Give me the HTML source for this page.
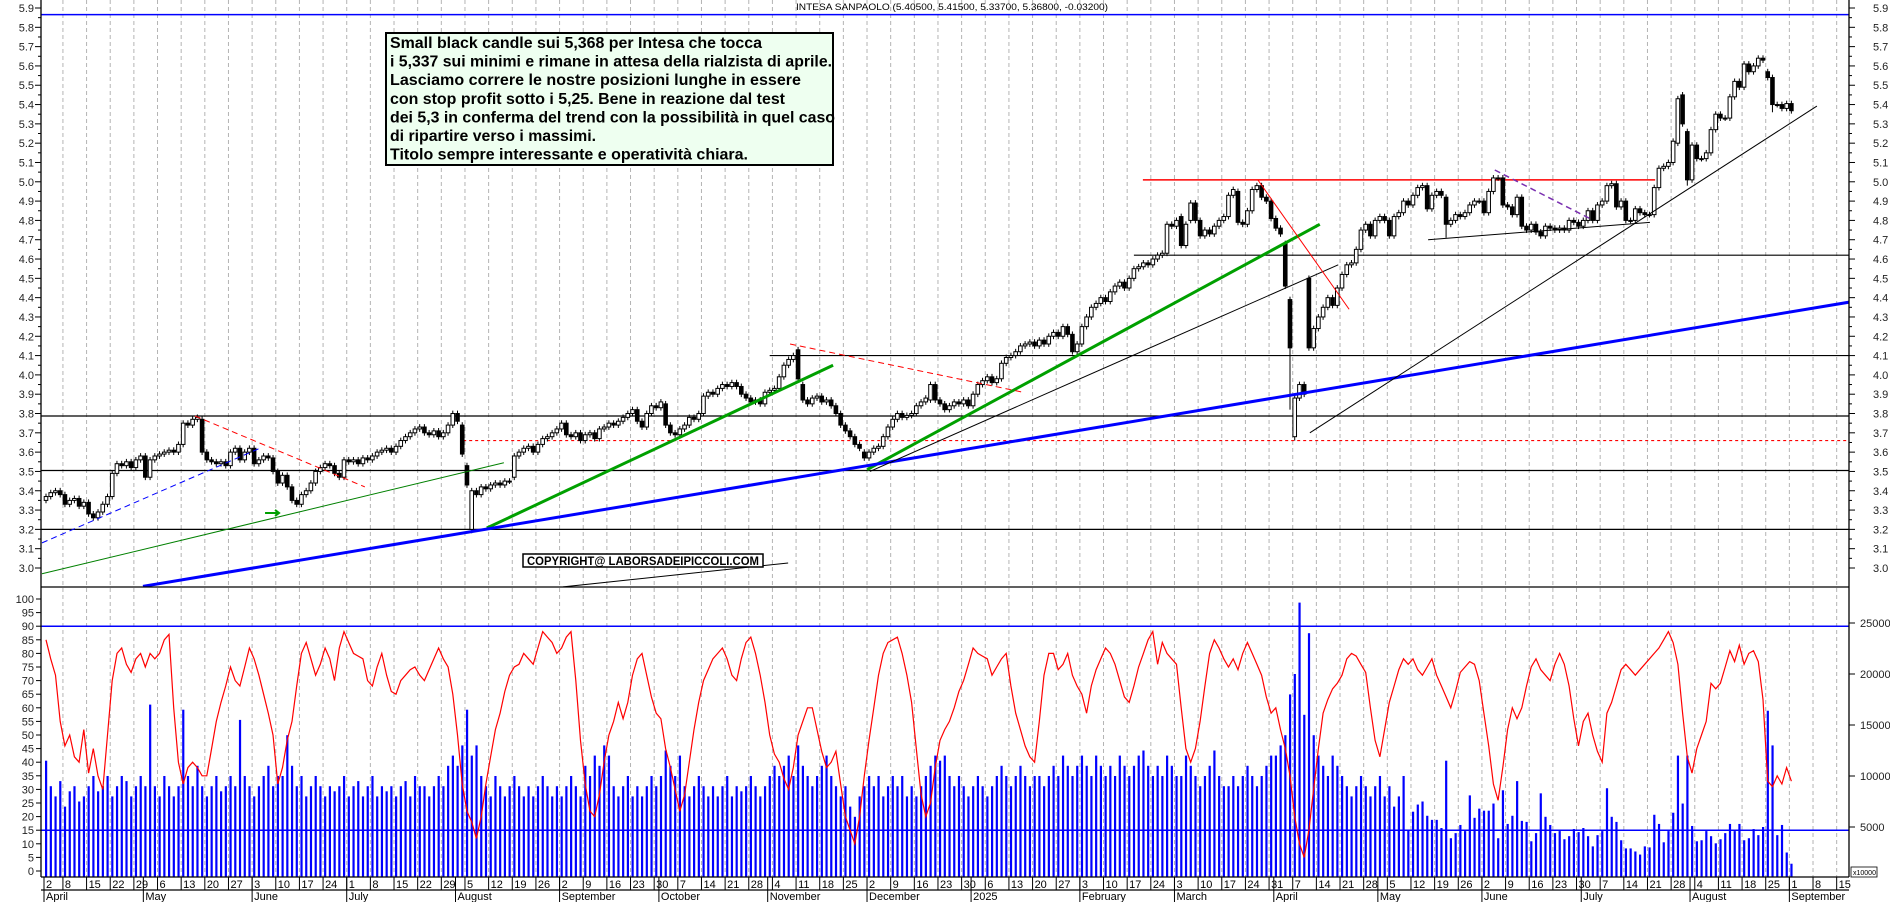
<!DOCTYPE html>
<html><head><meta charset="utf-8"><title>Intesa Sanpaolo chart</title>
<style>
html,body{margin:0;padding:0;background:#fff;}
svg{display:block;font-family:"Liberation Sans",Arial,sans-serif;}
</style></head>
<body>
<svg id="chart" xmlns="http://www.w3.org/2000/svg" width="1890" height="902" viewBox="0 0 1890 902">
<rect x="0" y="0" width="1890" height="902" fill="#fff"/>
<g id="grid"></g>
<g id="hlines"></g>
<g id="vol"></g>
<g id="osc"></g>
<g id="candles"></g>
<g id="trend"></g>
<g id="axes"></g>
<text x="796" y="10" font-size="9" textLength="312" lengthAdjust="spacingAndGlyphs" fill="#000">INTESA SANPAOLO (5.40500, 5.41500, 5.33700, 5.36800, -0.03200)</text>
<g>
<rect x="386" y="33" width="447" height="132" fill="#eefff0" stroke="#000" stroke-width="2"/>
<g font-size="16" font-weight="bold" fill="#000">
<text x="390" y="48" textLength="372" lengthAdjust="spacingAndGlyphs">Small black candle sui 5,368 per Intesa che tocca</text>
<text x="390" y="66.6" textLength="442" lengthAdjust="spacingAndGlyphs">i 5,337 sui minimi e rimane in attesa della rialzista di aprile.</text>
<text x="390" y="85.2" textLength="411" lengthAdjust="spacingAndGlyphs">Lasciamo correre le nostre posizioni lunghe in essere</text>
<text x="390" y="103.8" textLength="395" lengthAdjust="spacingAndGlyphs">con stop profit sotto i 5,25. Bene in reazione dal test</text>
<text x="390" y="122.4" textLength="445" lengthAdjust="spacingAndGlyphs">dei 5,3 in conferma del trend con la possibilità in quel caso</text>
<text x="390" y="141" textLength="206" lengthAdjust="spacingAndGlyphs">di ripartire verso i massimi.</text>
<text x="390" y="159.6" textLength="358" lengthAdjust="spacingAndGlyphs">Titolo sempre interessante e operatività chiara.</text>
</g></g>
<g>
<rect x="523" y="554" width="240" height="13" fill="#fff" stroke="#000" stroke-width="1.5"/>
<text x="527" y="565" font-size="12" font-weight="bold" textLength="232" lengthAdjust="spacingAndGlyphs">COPYRIGHT@ LABORSADEIPICCOLI.COM</text>
</g>
</svg>
<script>
// ---- data (trading day index 1 = 2 Apr 2024) ----
const closes = [
3.37,3.39,3.40,3.38,3.33,3.35,3.36,3.32,3.34,3.28,
3.26,3.29,3.33,3.37,3.49,3.54,3.53,3.55,3.52,3.56,
3.58,3.47,3.56,3.58,3.59,3.60,3.61,3.60,3.64,3.75,
3.74,3.77,3.78,3.60,3.56,3.55,3.54,3.55,3.53,3.60,
3.62,3.56,3.60,3.62,3.54,3.56,3.58,3.57,3.50,3.44,
3.48,3.42,3.35,3.33,3.38,3.40,3.44,3.50,3.52,3.54,
3.53,3.49,3.47,3.56,3.55,3.56,3.54,3.57,3.56,3.58,
3.60,3.61,3.62,3.60,3.63,3.66,3.68,3.70,3.72,3.73,
3.70,3.69,3.71,3.68,3.70,3.74,3.80,3.76,3.59,3.43,
3.40,3.38,3.42,3.41,3.43,3.44,3.43,3.45,3.45,3.58,
3.60,3.62,3.63,3.60,3.64,3.67,3.68,3.70,3.72,3.75,
3.69,3.68,3.70,3.66,3.69,3.70,3.67,3.72,3.73,3.75,
3.74,3.76,3.78,3.80,3.82,3.76,3.73,3.80,3.84,3.83,
3.86,3.74,3.70,3.69,3.72,3.74,3.78,3.77,3.80,3.89,
3.91,3.90,3.93,3.95,3.94,3.96,3.94,3.90,3.88,3.86,
3.87,3.85,3.91,3.92,3.93,3.99,4.05,4.08,4.10,3.98,
3.87,3.85,3.88,3.89,3.86,3.87,3.84,3.80,3.74,3.71,
3.68,3.64,3.62,3.57,3.60,3.62,3.63,3.68,3.73,3.77,
3.80,3.78,3.79,3.80,3.84,3.86,3.88,3.95,3.87,3.85,
3.82,3.84,3.86,3.85,3.87,3.84,3.90,3.95,3.97,3.99,
3.96,3.98,4.06,4.09,4.10,4.12,4.15,4.16,4.17,4.15,
4.18,4.16,4.20,4.22,4.20,4.25,4.21,4.12,4.16,4.25,
4.30,4.35,4.37,4.40,4.38,4.43,4.46,4.48,4.45,4.50,
4.55,4.56,4.58,4.57,4.60,4.62,4.63,4.78,4.77,4.80,
4.67,4.78,4.89,4.80,4.72,4.75,4.73,4.77,4.80,4.82,
4.93,4.96,4.79,4.78,4.85,4.96,4.98,4.92,4.90,4.81,
4.76,4.73,4.46,4.14,3.88,3.95,3.90,4.14,4.24,4.30,
4.35,4.40,4.36,4.45,4.52,4.57,4.58,4.65,4.75,4.78,
4.72,4.80,4.82,4.80,4.72,4.82,4.84,4.90,4.88,4.93,
4.97,4.98,4.86,4.93,4.95,4.93,4.78,4.80,4.83,4.82,
4.84,4.88,4.90,4.90,4.84,4.95,5.02,5.02,4.88,4.87,
4.83,4.92,4.77,4.75,4.78,4.74,4.72,4.77,4.76,4.75,
4.76,4.75,4.80,4.79,4.77,4.80,4.85,4.80,4.88,4.90,
4.98,4.99,4.87,4.90,4.80,4.80,4.86,4.84,4.83,4.83,
4.97,5.07,5.08,5.10,5.21,5.43,5.30,5.01,5.19,5.12,
5.12,5.15,5.27,5.35,5.33,5.33,5.44,5.52,5.49,5.61,
5.57,5.60,5.64,5.63,5.54,5.40,5.40,5.38,5.405,5.368];
// opens that differ from the previous close (gaps / long bodies)
const openIdx = [1,15,22,30,34,89,90,91,100,132,160,161,174,188,238,241,243,253,263,264,265,268,297,346,347,348,365,366,370];
const openVal = [3.35,3.37,3.58,3.64,3.77,3.74,3.53,3.20,3.47,3.85,4.13,3.95,3.60,3.87,4.63,4.82,4.80,4.95,4.68,4.39,3.68,4.50,4.92,5.20,5.45,5.26,5.57,5.54,5.405];
const lowIdx = [91,264,265,297,348,366];
const lowVal = [3.18,3.82,3.66,4.71,4.98,5.36];
const volumeK = [
11.5,9,8,9.5,7,8.5,9,7.5,8,9, 10,8.5,9,10,8,9,10,9.5,8,9,
10,9,17,9,8,10,9,8,9,16.5, 10,9,11,9,8,9,10,8.5,9,10,
9,15.5,10,9,8,9,10,11,9,10, 10,14,11,9,10,8,9,10,9,8,
9,8.5,9,10,8,9,9.5,8,9,10, 8,9,8.5,9,8,9,9.5,8,10,9,
9,8,9,10,9,11,12,11,13,16.5, 12,13,10,9,8,10,9,8,9,10,
9,8,9,8,9,10,9,8,9,8, 9,10,9,8,11,10,12,11,13,12,
9,8,9,10,8,9,8,9,10,9, 10,12.5,11,10,12,9,8,9,10,9,
8,9,8,9,10,8,9,8.5,9,10, 9,8,9,10,11,10,11,12,10,13,
11,10,9,10,11,12,10,9,8,9, 7,6,8,9,10,9,10,8,9,10,
9,10,8,9,8,9,10,11,12,11.5, 12,10,9,10,9,8,9,10,9,8,
9,10,11,10,9,10,11,10,9,10, 10,9,10,11,10,12,11,10,11,12,
11,10,12,11,10,11,10,12,11,10, 11,12,12.5,11,10,11,10,12,11,10,
10,12,11,10,9,10,11,12.5,10,9, 9,10,9,10,11,10,9,10,11,12,
12,13,14,18,20,27,16,24,14,12, 11,10,12,11,10,9,8,9,10,9,
8,9,10,8,9,7,8,10,4.7,6.5, 7.2,7.5,6.1,5.7,5.7,4.9,11.5,3.9,4.4,5.2,
4.6,8.1,5.9,6.8,6.6,6.6,7.3,3.9,8.6,5.3, 6.1,9.5,5.6,5.5,3.6,4.4,8.3,6.0,5.2,4.4,
4.6,3.8,4.1,4.8,4.5,4.9,4.1,3.1,4.2,4.6, 8.8,6.0,5.5,3.7,2.9,2.9,2.6,2.3,3.1,3.0,
6.2,5.3,3.5,4.6,6.4,12,7.3,12,5.1,3.6, 3.7,4.6,4.1,3.4,3.8,4.4,5.3,4.6,5.3,3.7,
3.9,4.8,4.2,5.0,16.4,13,4.2,5.2,2.5,1.4];
const oscValues = [
85,78,72,55,46,50,42,40,52,36, 45,35,30,50,70,80,82,76,73,78,
80,75,80,78,80,85,87,60,40,32, 38,40,38,35,35,45,55,62,68,75,
70,68,75,82,78,72,65,58,50,32, 38,48,55,68,80,84,78,72,76,82,
78,70,82,88,84,80,79,78,70,68, 75,80,72,66,65,70,72,74,75,72,
70,74,78,82,78,75,65,50,32,22, 18,12,20,32,42,52,58,66,72,75,
76,80,78,76,82,88,86,84,80,82, 86,88,70,48,32,22,20,28,40,50,
55,62,56,62,72,78,80,72,64,58, 56,45,38,30,22,28,40,52,62,70,
74,78,80,82,78,72,70,78,84,86, 80,72,62,50,43,40,34,30,38,50,
55,60,60,52,44,38,40,44,32,20, 15,10,20,35,48,60,72,80,84,85,
86,80,72,62,45,28,20,25,38,48, 52,55,60,66,70,76,82,80,79,78,
72,75,78,80,68,58,52,46,42,40, 55,72,80,80,74,76,80,72,68,65,
58,68,74,78,82,80,76,70,64,62, 68,75,80,85,88,76,84,80,78,76,
60,45,40,45,55,68,80,85,82,78, 75,78,74,80,84,80,76,72,64,58,
60,52,45,35,20,10,5,15,30,45, 58,63,67,69,72,78,80,79,76,73,
60,48,42,52,62,68,74,78,76,78, 74,72,75,78,72,68,64,60,66,73,
75,77,76,70,58,46,32,26,38,52, 60,56,60,68,75,78,74,72,70,76,
80,76,68,56,46,55,58,50,44,40, 58,62,68,74,76,74,72,74,76,78,
80,82,85,88,84,76,58,42,36,45, 50,55,69,67,69,75,81,77,83,76,
80,81,77,63,33,31,35,32,38,33];
const priceTicks = [3.0,3.1,3.2,3.3,3.4,3.5,3.6,3.7,3.8,3.9,4.0,4.1,4.2,4.3,4.4,4.5,4.6,4.7,4.8,4.9,5.0,5.1,5.2,5.3,5.4,5.5,5.6,5.7,5.8,5.9];
const oscTicks = [0,5,10,15,20,25,30,35,40,45,50,55,60,65,70,75,80,85,90,95,100];
const volTicks = [5000,10000,15000,20000,25000];
const monthNames = ['2025','February','March','April','May','June','July','August','September','October','November','December'];
// levels / trendlines in (day index, price)
const levelPrices = [3.787,3.505,3.2];
const trendFromIdx = [0.15,0.15,32.5,94.2,174.6,21.5,175.2,268.2,293.2,307.3,257.2,158.3,110.3];
const trendFromP   = [3.13,2.97,3.787,3.207,3.51,2.905,3.50,3.70,4.70,5.061,5.01,4.16,2.902];
const trendToIdx   = [46.2,97.8,68.4,167.4,270.3,382.3,274.2,375.4,340.1,328.0,276.5,207.6,157.9];
const trendToP     = [3.62,3.545,3.42,4.05,4.78,4.377,4.57,5.392,4.79,4.802,4.34,3.91,3.026];
const trendColor   = ['#0000ff','#008000','#ff0000','#00a000','#00a000','#0000ff','#000','#000','#000','#7a2fb0','#ff0000','#ff0000','#000'];
const trendWidth   = [1,1,1,3,3,3,1,1,1,1.5,1,1,1];
const trendDash    = ['6 4','','6 4','','','','','','','6 4','','6 4',''];

// ---- axes functions ----
const NS='http://www.w3.org/2000/svg';
const L=41, R=1849, PB=587, AX=877;
function X(i){return 46+(i-1)*4.73;}
function PY(p){return 8+(5.9-p)*193.1;}
function OY(v){return 871-v*2.72;}
function VY(k){return 878-k*10.2;}
function mk(tag,a,parent){const el=document.createElementNS(NS,tag);for(const k in a)el.setAttribute(k,a[k]);parent.appendChild(el);return el;}
function dateOf(i){return new Date(Date.UTC(2024,3,1)+(Math.floor(i/5)*7+i%5)*864e5);}

const G=document.getElementById('grid'),H=document.getElementById('hlines'),V=document.getElementById('vol'),
O=document.getElementById('osc'),C=document.getElementById('candles'),T=document.getElementById('trend'),A=document.getElementById('axes');

// date axis + grid
let prevMonth=-1;
for(let i=1;i<=380;i++){
  const d=dateOf(i), x=X(i)-2, m=d.getUTCMonth();
  const isMon=(i%5===0)||i===1, newMonth=(m!==prevMonth);
  if(i%5===0){
    const gl=mk('line',{x1:x,y1:0,x2:x,y2:AX,stroke:'#b4b4b4','stroke-dasharray':'4 3','stroke-width':1},G);
    
    
  }
  if(isMon){
    const s=mk('line',{x1:x,y1:AX,x2:x,y2:890,stroke:'#000','stroke-width':1},A);
    
    
    const t=mk('text',{x:x+2,y:888,'font-size':11,fill:'#000'},A);
    
    
    t.textContent=String(d.getUTCDate());
  }
  if(newMonth){
    const ms=mk('line',{x1:x,y1:AX,x2:x,y2:902,stroke:'#000','stroke-width':1},A);
    
    
    if(i<=375){
      const mt=mk('text',{x:x+2,y:900,'font-size':11,fill:'#000'},A);
      
      
      mt.textContent=(m===3&&d.getUTCFullYear()===2024)?'April':monthNames[m];
    }
    prevMonth=m;
  }
}
[[L,AX,R,AX],[L,890,R,890],[L,PB,R,PB],[L,0,L,AX],[R,0,R,AX]].forEach(function(c){
  const ln=mk('line',{x1:c[0],y1:c[1],x2:c[2],y2:c[3],stroke:'#000','stroke-width':1.3},A);
  
  
});

// price ticks
priceTicks.forEach(function(p){
  const y=PY(p);
  const lt=mk('text',{x:34,y:y+4,'font-size':11,'text-anchor':'end',fill:'#222'},A);
  
  
  lt.textContent=p.toFixed(1);
  const rt=mk('text',{x:1873,y:y+4,'font-size':11,fill:'#222'},A);
  
  
  rt.textContent=p.toFixed(1);
  [0,0.05].forEach(function(o){
    const yy=PY(p+o), len=o?3:6;
    if(yy<0)return;
    const a=mk('line',{x1:L-len,y1:yy,x2:L,y2:yy,stroke:'#000'},A);
    
    
    const b=mk('line',{x1:R,y1:yy,x2:R+len,y2:yy,stroke:'#000'},A);
    
    
  });
});
oscTicks.forEach(function(v){
  const y=OY(v);
  const t=mk('text',{x:34,y:y+4,'font-size':11,'text-anchor':'end',fill:'#222'},A);
  
  
  t.textContent=String(v);
  const tm=mk('line',{x1:L-5,y1:y,x2:L,y2:y,stroke:'#000'},A);
  
  
});
volTicks.forEach(function(v){
  const y=VY(v/1000);
  const t=mk('text',{x:1860,y:y+4,'font-size':11,fill:'#222'},A);
  
  
  t.textContent=String(v);
  const tm=mk('line',{x1:R,y1:y,x2:R+6,y2:y,stroke:'#000'},A);
  
  
});
const xb=mk('rect',{x:1851,y:867,width:26,height:10,fill:'#fff',stroke:'#000','stroke-width':0.8},A);


const xt=mk('text',{x:1853,y:875,'font-size':7,fill:'#000'},A);


xt.textContent='x10000';

// horizontal levels
levelPrices.forEach(function(p){
  const l=mk('line',{x1:L,y1:PY(p),x2:R,y2:PY(p),stroke:'#000','stroke-width':1.2},H);
  
  
});
[[154,4.10,'#000',1.2,''],[231,4.62,'#000',1.2,''],[89.2,3.66,'#ff0000',1.2,'3 3'],[0,5.866,'#0000ff',1.5,'']].forEach(function(h){
  const l=mk('line',{x1:Math.max(L,X(h[0])),y1:PY(h[1]),x2:R,y2:PY(h[1]),stroke:h[2],'stroke-width':h[3],'stroke-dasharray':h[4]},H);
  
  
});
const rs=mk('line',{x1:X(232.9),y1:PY(5.01),x2:X(341.2),y2:PY(5.01),stroke:'#ff0000','stroke-width':1.5},H);


[90,15].forEach(function(v){
  const l=mk('line',{x1:L,y1:OY(v),x2:R,y2:OY(v),stroke:'#0000ff','stroke-width':1.5},H);
  
  
});

// volume bars
volumeK.forEach(function(k,j){
  const i=j+1, y=VY(k);
  const b=mk('rect',{x:X(i)-1,y:y,width:2.2,height:AX-y,fill:'#0000ff'},V);
  
  
});
// oscillator line
let pts=oscValues.map(function(v,j){return X(j+1).toFixed(1)+','+OY(v).toFixed(1);}).join(' ');
const ol=mk('polyline',{points:pts,fill:'none',stroke:'#ff0000','stroke-width':1.2},O);



// candles
closes.forEach(function(c,j){
  const i=j+1;
  let o=j>0?closes[j-1]:c;
  const oi=openIdx.indexOf(i); if(oi>=0)o=openVal[oi];
  let hi=Math.max(o,c)+0.015, lo=Math.min(o,c)-0.015;
  const li=lowIdx.indexOf(i); if(li>=0)lo=lowVal[li];
  const x=X(i), g=mk('g',{},C);
  
  
  const w=mk('line',{x1:x,y1:PY(hi),x2:x,y2:PY(lo),stroke:'#000','stroke-width':1},g);
  
  
  const top=PY(Math.max(o,c)), h=Math.max(1,PY(Math.min(o,c))-top);
  const b=mk('rect',{x:x-1.8,y:top,width:3.6,height:h,fill:c<o?'#000':'#fff',stroke:'#000','stroke-width':1},g);
  
  
});

// trendlines
const clip=mk('clipPath',{id:'pclip'},T);
const cr=mk('rect',{x:L,y:0,width:R-L,height:PB},clip);


trendFromIdx.forEach(function(fi,k){
  const l=mk('line',{x1:X(fi),y1:PY(trendFromP[k]),x2:X(trendToIdx[k]),y2:PY(trendToP[k]),stroke:trendColor[k],'stroke-width':trendWidth[k],'stroke-dasharray':trendDash[k],'clip-path':'url(#pclip)'},T);
  
  
});
const ar=mk('path',{d:'M'+(X(49)-8)+','+PY(3.285)+' L'+(X(49)+6)+','+PY(3.285)+' M'+(X(49)+2)+','+(PY(3.285)-3)+' L'+(X(49)+6)+','+PY(3.285)+' L'+(X(49)+2)+','+(PY(3.285)+3),stroke:'#00a000','stroke-width':2,fill:'none'},T);


</script>
</body></html>
